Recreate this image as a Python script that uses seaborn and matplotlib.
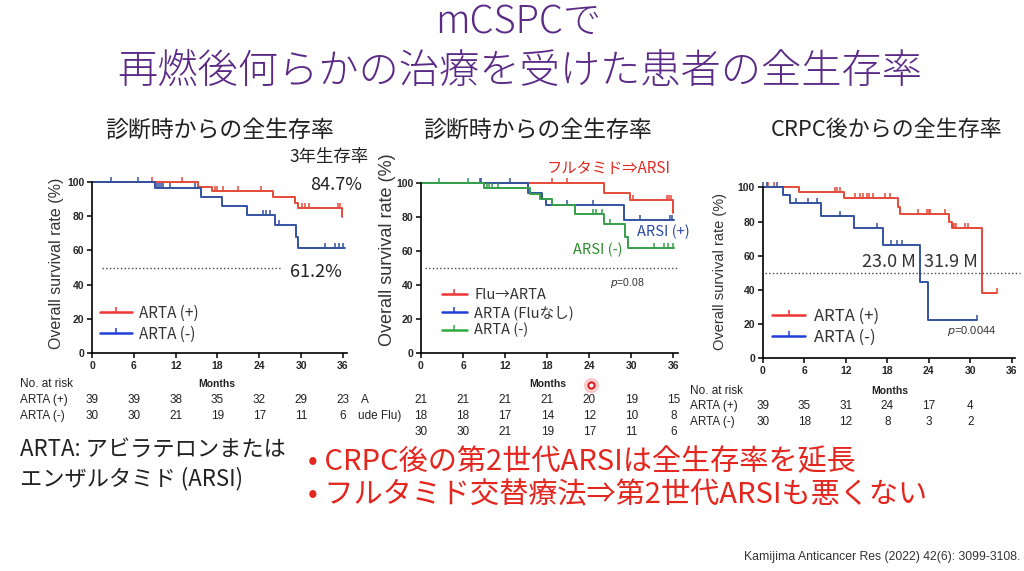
import numpy as np
import matplotlib
matplotlib.use("Agg")
import matplotlib.pyplot as plt
from matplotlib.lines import Line2D
import seaborn as sns

W, H = 1024, 571

# ---- data ----
months = [0, 6, 12, 18, 24, 30, 36]
months_p3 = [0, 6, 12, 18, 24, 30]
yticks = [0, 20, 40, 60, 80, 100]

# 診断時から (ARTA +/-)
p1_pos_t = [0, 15.2, 17.2, 25.9, 29.1, 29.5, 35.9]
p1_pos_s = [100, 97.0, 94.5, 91.0, 87.9, 85.0, 79.5]
p1_pos_cens = [8.6, 12.9, 17.6, 18.0, 18.8, 20.9, 24.3, 30.2, 30.6, 31.1, 35.3, 35.6]
p1_neg_t = [0, 9.0, 15.6, 18.6, 22.2, 26.2, 29.2, 29.6, 36.3]
p1_neg_s = [100, 96.3, 91.0, 86.0, 80.7, 74.9, 68.0, 61.2, 61.2]
p1_neg_cens = [2.7, 6.6, 9.3, 9.6, 9.9, 10.2, 11.2, 14.8, 24.5, 25.0, 25.5, 26.9, 33.4, 34.8, 35.4, 36.0]
p1_risk_pos = [39, 39, 38, 35, 32, 29, 23]
p1_risk_neg = [30, 30, 21, 19, 17, 11, 6]

# 診断時から (Flu->ARTA / ARTA Fluなし / ARTA -)
p2_flu_t = [0, 26.1, 29.8, 36.0]
p2_flu_s = [100, 94.2, 89.8, 82.0]
p2_flu_cens = [18.7, 20.8, 30.3, 35.1, 35.4, 35.7]
p2_arta_t = [0, 15.2, 17.2, 17.8, 29.0, 36.1]
p2_arta_s = [100, 93.8, 90.2, 86.8, 78.2, 78.2]
p2_arta_cens = [8.4, 8.6, 12.7, 20.8, 24.5, 31.2, 35.5, 35.8]
p2_neg_t = [0, 9.0, 15.6, 17.0, 18.7, 22.0, 26.1, 29.1, 29.5, 36.1]
p2_neg_s = [100, 96.7, 93.5, 90.3, 87.0, 81.5, 75.6, 68.4, 61.6, 61.6]
p2_neg_cens = [2.6, 6.7, 9.4, 9.7, 10.1, 11.0, 24.5, 25.0, 25.8, 27.0, 33.3, 34.6, 35.3, 35.9]
p2_risk_a = [21, 21, 21, 21, 20, 19, 15]
p2_risk_b = [18, 18, 17, 14, 12, 10, 8]
p2_risk_c = [30, 30, 21, 19, 17, 11, 6]

# CRPC後から (ARTA +/-)
p3_pos_t = [0, 5.3, 11.7, 19.6, 19.9, 26.9, 27.3, 31.7, 33.9]
p3_pos_s = [100, 97.4, 93.6, 88.7, 84.2, 80.0, 76.0, 38.0, 38.0]
p3_pos_cens = [0.8, 1.6, 10.5, 10.8, 11.1, 13.4, 14.0, 14.5, 15.0, 15.4, 16.0, 17.7, 18.4,
               22.5, 23.7, 24.0, 24.2, 26.3, 27.5, 27.7, 27.9, 29.2, 29.7, 33.8]
p3_neg_t = [0, 3.0, 3.9, 8.4, 13.2, 17.4, 22.7, 23.9, 31.0]
p3_neg_s = [100, 95.5, 90.6, 83.4, 76.0, 66.3, 44.4, 22.4, 22.4]
p3_neg_cens = [0.1, 0.6, 2.0, 4.8, 6.6, 7.8, 11.2, 16.5, 18.6, 19.4, 20.1, 31.0]
p3_risk_pos = [39, 35, 31, 24, 17, 4]
p3_risk_neg = [30, 18, 12, 8, 3, 2]

RED = '#E5493A'
BLUE = '#3452A0'
GREEN = '#35A04A'
LEG_RED = '#EE3434'
LEG_BLUE = '#1F3FD8'
LEG_GREEN = '#2FAA3C'
INK = '#222222'

sns.set_theme(style='white')
plt.rcParams['font.family'] = ['Noto Sans CJK JP', 'DejaVu Sans']
LAT = ['Liberation Sans', 'DejaVu Sans']

fig = plt.figure(figsize=(W / 100, H / 100), dpi=100)
fig.patch.set_facecolor('white')

# 全体をピクセル座標で扱う背景軸
bg = fig.add_axes([0, 0, 1, 1])
bg.set_xlim(0, W)
bg.set_ylim(H, 0)
bg.axis('off')


def panel(x0, ppm, top, bottom, xmax):
    ax = fig.add_axes([x0 / W, 1 - bottom / H, xmax * ppm / W, (bottom - top) / H])
    ax.set_facecolor('none')
    ax.set_xlim(0, xmax)
    ax.set_ylim(0, 100)
    ax.set_xticks(months)
    ax.set_yticks(yticks)
    for sp in ['top', 'right']:
        ax.spines[sp].set_visible(False)
    for sp in ['left', 'bottom']:
        ax.spines[sp].set_color('black')
        ax.spines[sp].set_linewidth(1.2)
    ax.tick_params(direction='out', length=3.5, width=1.1, color='black', pad=2,
                   labelsize=7.5, left=True, bottom=True)
    for lab in ax.get_xticklabels() + ax.get_yticklabels():
        lab.set_fontfamily(LAT)
        lab.set_fontweight('bold')
    ax.set_xlabel('')
    ax.set_ylabel('')
    ax._px = (top, bottom)
    return ax


def km(ax, t, s, cens, color):
    sns.lineplot(x=t, y=s, drawstyle='steps-post', color=color, lw=1.4, ax=ax,
                 clip_on=False, legend=False, sort=False, estimator=None)
    cy = np.array(s)[np.searchsorted(t, cens, side='right') - 1]
    ax.plot(cens, cy, ls='none', marker=2, ms=3.5, mew=1.1, color=color, clip_on=False)


def risk_row(ax, ypx, values, xs=months, size=8.5):
    top, bottom = ax._px
    yf = (bottom - ypx) / (bottom - top)
    for x, v in zip(xs, values):
        ax.text(x, yf, str(v), transform=ax.get_xaxis_transform(), ha='center', va='center',
                fontsize=size, color=INK, family=LAT, clip_on=False)


def legend(ax, colors, labels, xf, yf, size, hl, spacing):
    hs = [Line2D([], [], color=c, lw=1.8, marker=2, ms=3.5, mew=1.1) for c in colors]
    leg = ax.legend(hs, labels, loc='center left', bbox_to_anchor=(xf, yf), frameon=False,
                    fontsize=size, handlelength=hl, handletextpad=0.5, labelspacing=spacing,
                    borderpad=0, borderaxespad=0)
    for tx in leg.get_texts():
        tx.set_color('#333333')


def txt(x, y, s, **kw):
    kw.setdefault('va', 'center')
    kw.setdefault('color', INK)
    bg.text(x, y, s, **kw)


# ---- タイトル ----
txt(518, 22, 'mCSPCで', ha='center', fontsize=27.5, color='#5B2A86', fontweight='light')
txt(520, 72, '再燃後何らかの治療を受けた患者の全生存率', ha='center', fontsize=29,
    color='#5B2A86', fontweight='light')

# ---- パネル1 ----
ax1 = panel(92, 6.97, 182, 353, 36.6)
km(ax1, p1_pos_t, p1_pos_s, p1_pos_cens, RED)
km(ax1, p1_neg_t, p1_neg_s, p1_neg_cens, BLUE)
ax1.plot([1.4, 27], [50, 50], ls=':', color='#444444', lw=1)
legend(ax1, [LEG_RED, LEG_BLUE], ['ARTA (+)', 'ARTA (-)'], 0.03, 0.172, 11, 2.1, 0.25)
txt(219, 130, '診断時からの全生存率', ha='center', fontsize=16.5)
txt(57, 263, 'Overall survival rate (%)', rotation=90, ha='center', fontsize=11.5,
    family=LAT, color='#333333')
txt(289, 157, '3年生存率', ha='left', fontsize=12.5)
txt(310, 185, '84.7%', ha='left', fontsize=13)
txt(290, 272, '61.2%', ha='left', fontsize=13)
txt(20, 384, 'No. at risk', ha='left', fontsize=8.5, family=LAT)
txt(217, 384, 'Months', ha='center', fontsize=7.5, family=LAT, fontweight='bold')
txt(20, 400, 'ARTA (+)', ha='left', fontsize=8.5, family=LAT)
txt(20, 416, 'ARTA (-)', ha='left', fontsize=8.5, family=LAT)
risk_row(ax1, 400, p1_risk_pos)
risk_row(ax1, 416, p1_risk_neg)

# ---- パネル2 ----
ax2 = panel(421, 7.01, 182.7, 353.3, 36.6)
km(ax2, p2_flu_t, p2_flu_s, p2_flu_cens, RED)
km(ax2, p2_arta_t, p2_arta_s, p2_arta_cens, BLUE)
km(ax2, p2_neg_t, p2_neg_s, p2_neg_cens, GREEN)
ax2.plot([0.5, 36.5], [50, 50], ls=':', color='#444444', lw=1)
legend(ax2, [LEG_RED, LEG_BLUE, LEG_GREEN], ['Flu→ARTA', 'ARTA (Fluなし)', 'ARTA (-)'],
       0.082, 0.236, 10.5, 1.7, 0.2)
txt(538, 130, '診断時からの全生存率', ha='center', fontsize=16.5)
txt(387, 250, 'Overall survival rate (%)', rotation=90, ha='center', fontsize=13,
    family=LAT, color='#333333')
txt(547, 169, 'フルタミド⇒ARSI', ha='left', fontsize=11, color='#E02A1F')
txt(637, 232, 'ARSI (+)', ha='left', fontsize=10.5, color='#2B4AA8')
txt(573, 250, 'ARSI (-)', ha='left', fontsize=10.5, color='#2E8B2E')
txt(610, 283, '$p$=0.08', ha='left', fontsize=7.5, family=LAT, color='#333333')
txt(548, 384, 'Months', ha='center', fontsize=7.5, family=LAT, fontweight='bold')
txt(361, 400, 'A', ha='left', fontsize=8.5, family=LAT)
txt(358, 416, 'ude Flu)', ha='left', fontsize=8.5, family=LAT)
risk_row(ax2, 400, p2_risk_a)
risk_row(ax2, 416, p2_risk_b)
risk_row(ax2, 432, p2_risk_c)

# ---- パネル3 ----
ax3 = panel(762.7, 6.92, 187.3, 358.3, 36.5)
km(ax3, p3_pos_t, p3_pos_s, p3_pos_cens, RED)
km(ax3, p3_neg_t, p3_neg_s, p3_neg_cens, BLUE)
ax3.plot([0.3, 37.2], [50, 50], ls=':', color='#444444', lw=1, clip_on=False)
legend(ax3, [LEG_RED, LEG_BLUE], ['ARTA (+)', 'ARTA (-)'], 0.037, 0.183, 12, 2.0, 0.25)
txt(887, 130, 'CRPC後からの全生存率', ha='center', fontsize=15.8)
txt(720, 271, 'Overall survival rate (%)', rotation=90, ha='center', fontsize=10.5,
    family=LAT, color='#333333')
txt(862, 262, '23.0 M', ha='left', fontsize=13, color='#333333')
txt(924, 262, '31.9 M', ha='left', fontsize=13, color='#333333')
txt(947, 331, '$p$=0.0044', ha='left', fontsize=8, family=LAT, color='#333333')
txt(690, 391, 'No. at risk', ha='left', fontsize=8.5, family=LAT)
txt(890, 391, 'Months', ha='center', fontsize=7.5, family=LAT, fontweight='bold')
txt(690, 406, 'ARTA (+)', ha='left', fontsize=8.5, family=LAT)
txt(690, 422, 'ARTA (-)', ha='left', fontsize=8.5, family=LAT)
risk_row(ax3, 406, p3_risk_pos, months_p3)
risk_row(ax3, 422, p3_risk_neg, months_p3)

# マウスポインタ
bg.plot([591], [385], marker='o', ms=10, color='#F7B5B5', alpha=0.6, ls='none')
bg.plot([591], [385], marker='o', ms=4.5, mfc='white', mec='#E02020', mew=1.5, ls='none')

# ---- 下部テキスト ----
txt(20, 450, 'ARTA: アビラテロンまたは', ha='left', fontsize=16)
txt(20, 479, 'エンザルタミド (ARSI)', ha='left', fontsize=16)
txt(308, 462, '• CRPC後の第2世代ARSIは全生存率を延長', ha='left', fontsize=21, color='#E3261E')
txt(308, 495, '• フルタミド交替療法⇒第2世代ARSIも悪くない', ha='left', fontsize=21, color='#E3261E')
txt(1020, 557, 'Kamijima Anticancer Res (2022) 42(6): 3099-3108.', ha='right', fontsize=8.8,
    family=LAT, color='#333333')

fig.savefig('out.png', dpi=100)
